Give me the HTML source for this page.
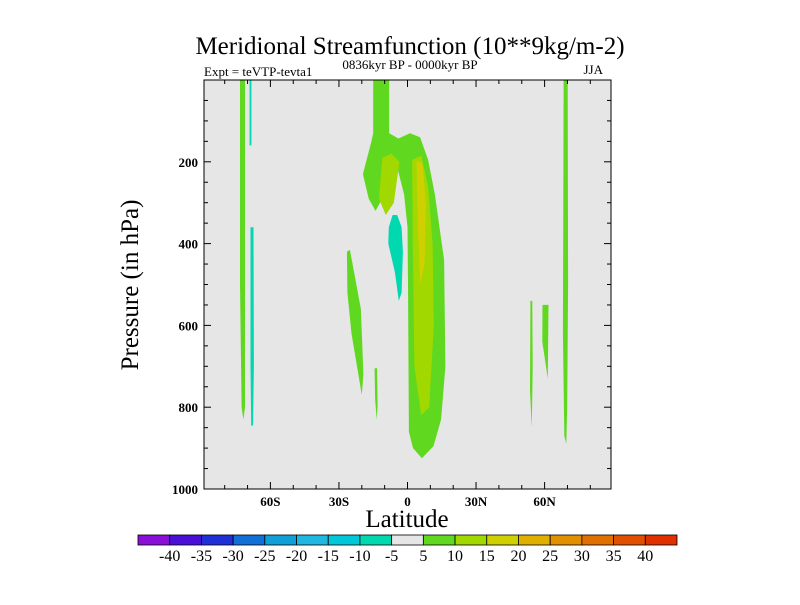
<!DOCTYPE html>
<html><head><meta charset="utf-8"><style>
body{margin:0;background:#fff;}
svg text{font-family:"Liberation Serif",serif;fill:#000;}
</style></head><body>
<svg id="chart" width="800" height="600" viewBox="0 0 800 600">
<text x="410" y="54" font-size="25" text-anchor="middle">Meridional Streamfunction (10**9kg/m-2)</text>
<text x="204" y="76" font-size="13">Expt = teVTP-tevta1</text>
<text x="410" y="69" font-size="13" text-anchor="middle">0836kyr BP - 0000kyr BP</text>
<text x="603" y="74" font-size="13" text-anchor="end">JJA</text>
<text transform="translate(138,285) rotate(-90)" font-size="25" text-anchor="middle">Pressure (in hPa)</text>
<text x="407" y="527" font-size="25" text-anchor="middle">Latitude</text>
<rect x="204" y="80" width="407" height="409" fill="#e6e6e6"/>
<g id="fills"></g>
<g id="axes"></g>
<g id="cbar"></g>
</svg>
<script>
const NS='http://www.w3.org/2000/svg';
const latTicks=[-60,-30,0,30,60];
const latLabels=['60S','30S','0','30N','60N'];
const pTicks=[200,400,600,800,1000];
const levels=[-40,-35,-30,-25,-20,-15,-10,-5,5,10,15,20,25,30,35,40];
const colors=['#8a10d8','#4a10d8','#2030d8','#1070d8','#10a0d8','#20b8e0','#00c8d8','#00d8b0','#e6e6e6','#60d820','#a0d800','#d0d000','#e0b000','#e09000','#e07000','#e05000','#e03000'];
// contour regions: [lat, pressure] pairs, with fill level index
const regionLevels=[9,7,7,9,9,9,9,9,9,10,10,11,7];
const regionShapes=[
 [[-73.3,0],[-71.1,0],[-71.1,800],[-71.8,830],[-72.6,800],[-73.3,500]],
 [[-68.7,360],[-67.4,360],[-67.2,700],[-67.6,845],[-68.4,845],[-68.7,700]],
 [[-69.1,0],[-68.3,0],[-68.3,160],[-69.1,160]],
 [[-26.5,420],[-25.2,415],[-20.4,560],[-19.3,720],[-20.0,770],[-24.5,620],[-26.3,520]],
 [[-14.4,705],[-13.3,705],[-13.1,800],[-13.5,830],[-14.2,780]],
 [[-15,0],[-8,0],[-8,130],[-4,143],[1.1,130],[5.5,140],[9,195],[12,280],[16,440],[16.6,700],[14.7,830],[11.4,895],[6.3,925],[2.4,900],[0.6,860],[0.2,500],[0,360],[-1.5,280],[-4.4,215],[-7,235],[-10,280],[-14,320],[-17,290],[-19.5,230],[-16,155],[-15,130]],
 [[53.8,540],[54.6,540],[54.8,700],[54.4,850],[53.6,760]],
 [[59.1,550],[61.7,550],[61.4,730],[59.0,640]],
 [[68.3,0],[70.1,0],[70.3,500],[69.9,800],[69.5,890],[68.6,870],[68.0,620],[68.2,300]],
 [[-11,190],[-7,180],[-3.5,200],[-6,300],[-9.5,330],[-12.5,290]],
 [[2,195],[6,185],[9,260],[11,400],[11.5,600],[9.5,800],[6,820],[3,700],[2.3,400]],
 [[4,200],[6.5,200],[8,300],[7.5,450],[5.5,500],[4.5,350]],
 [[-6.5,330],[-4.5,330],[-2.6,360],[-2.0,420],[-2.6,520],[-3.8,540],[-5.5,470],[-8.4,400],[-8.2,360]]
];
const X0=204,X1=611,Y0=80,Y1=489;
function xs(lat){return 407.5+lat*2.285;}
function ys(p){return Y0+p*(Y1-Y0)/1000;}
const fills=document.getElementById('fills');
regionShapes.forEach((sh,i)=>{
 const pg=document.createElementNS(NS,'polygon');
 pg.setAttribute('points',sh.map(q=>xs(q[0]).toFixed(1)+','+ys(q[1]).toFixed(1)).join(' '));
 pg.setAttribute('fill',colors[regionLevels[i]]);
 
 
 fills.appendChild(pg);
});
const ax=document.getElementById('axes');
function line(x1,y1,x2,y2,w,name){const l=document.createElementNS(NS,'line');l.setAttribute('x1',x1);l.setAttribute('y1',y1);l.setAttribute('x2',x2);l.setAttribute('y2',y2);l.setAttribute('stroke','#000');l.setAttribute('stroke-width',w);


ax.appendChild(l);}
function txt(x,y,s,anchor,size,name){const t=document.createElementNS(NS,'text');t.setAttribute('x',x);t.setAttribute('y',y);t.setAttribute('text-anchor',anchor);t.setAttribute('font-size',size);t.textContent=s;


return t;}
const fr=document.createElementNS(NS,'rect');
fr.setAttribute('x',X0);fr.setAttribute('y',Y0);fr.setAttribute('width',X1-X0);fr.setAttribute('height',Y1-Y0);fr.setAttribute('fill','none');fr.setAttribute('stroke','#000');fr.setAttribute('stroke-width','1');


ax.appendChild(fr);
for(let lat=-80;lat<=80;lat+=10){const maj=latTicks.includes(lat);const x=xs(lat);const L=maj?7:4;
 line(x,Y1,x,Y1-L,1,'x-tick');line(x,Y0,x,Y0+L,1,'x-tick-top');}
latTicks.forEach((v,i)=>{const t=txt(xs(v),Y1+17,latLabels[i],'middle',13,'x-tick-label');t.setAttribute('font-weight','bold');ax.appendChild(t);});
for(let p=50;p<=1000;p+=50){const maj=pTicks.includes(p);const y=ys(p);const L=maj?7:4;
 line(X0,y,X0+L,y,1,'y-tick');line(X1,y,X1-L,y,1,'y-tick-right');}
pTicks.forEach(v=>{const t=txt(X0-6,ys(v)+5,String(v),'end',13,'y-tick-label');t.setAttribute('font-weight','bold');ax.appendChild(t);});
const cb=document.getElementById('cbar');
const cx0=138,cx1=677,cy=535,ch=10,bw=(cx1-cx0)/colors.length;
colors.forEach((c,i)=>{const r=document.createElementNS(NS,'rect');r.setAttribute('x',cx0+i*bw);r.setAttribute('y',cy);r.setAttribute('width',bw);r.setAttribute('height',ch);r.setAttribute('fill',c);r.setAttribute('stroke','#000');r.setAttribute('stroke-width','0.8');


cb.appendChild(r);});
levels.forEach((v,i)=>cb.appendChild(txt(cx0+(i+1)*bw,cy+26,String(v),'middle',16,'colorbar-label')));
</script>
</body></html>
